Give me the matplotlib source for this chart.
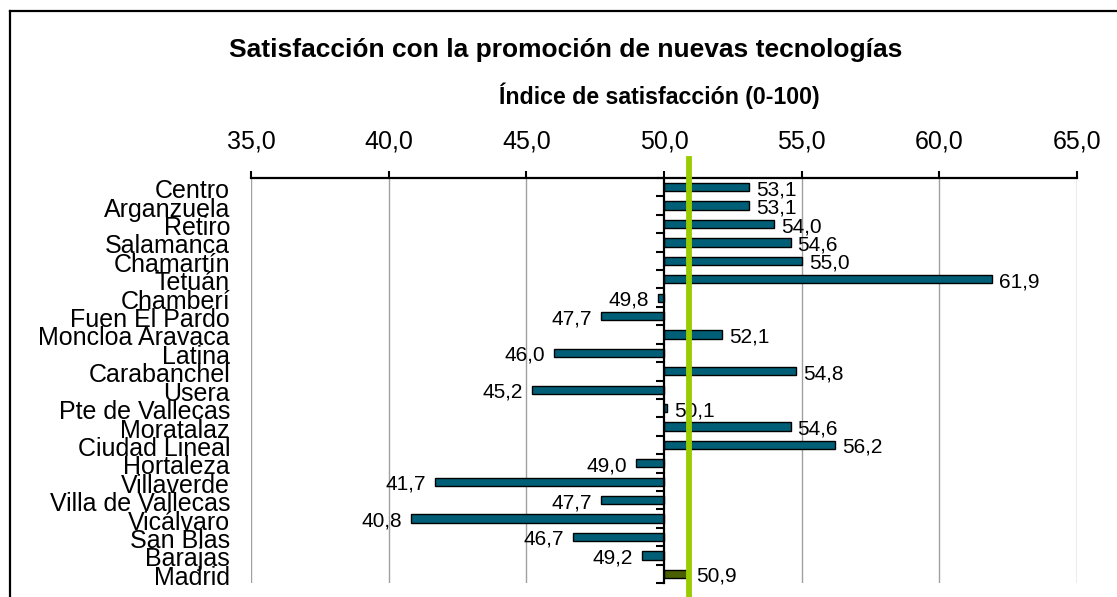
import matplotlib
matplotlib.use("Agg")
import matplotlib.pyplot as plt
import matplotlib.transforms as mtransforms
from matplotlib.lines import Line2D
import numpy as np

plt.rcParams['font.family'] = ['Liberation Sans', 'DejaVu Sans']

# ---------------- data ----------------
districts = ["Centro", "Arganzuela", "Retiro", "Salamanca", "Chamartín", "Tetuán",
             "Chamberí", "Fuen El Pardo", "Moncloa Aravaca", "Latina", "Carabanchel",
             "Usera", "Pte de Vallecas", "Moratalaz", "Ciudad Lineal", "Hortaleza",
             "Villaverde", "Villa de Vallecas", "Vicálvaro", "San Blas", "Barajas",
             "Madrid"]
values = [53.1, 53.1, 54.0, 54.6, 55.0, 61.9,
          49.8, 47.7, 52.1, 46.0, 54.8,
          45.2, 50.1, 54.6, 56.2, 49.0,
          41.7, 47.7, 40.8, 46.7, 49.2,
          50.9]
baseline = 50.0
madrid_avg = 50.9
x_ticks = [35, 40, 45, 50, 55, 60, 65]
x_tick_labels = ["35,0", "40,0", "45,0", "50,0", "55,0", "60,0", "65,0"]
title = "Satisfacción con la promoción de nuevas tecnologías"
subtitle = "Índice de satisfacción (0-100)"

# ---------------- figure ----------------
W, H = 1117, 597
fig = plt.figure(figsize=(W / 100, H / 100), dpi=100)
ax = fig.add_axes([251 / W, 1 - 583 / H, (1077 - 251) / W, (583 - 178) / H])

n = len(districts)
ypos = np.arange(n)
bar_colors = ['#005F77'] * (n - 1) + ['#4A6000']
widths = [v - baseline for v in values]
ax.barh(ypos, widths, left=baseline, height=0.45, color=bar_colors,
        edgecolor='black', linewidth=1.0, zorder=3)

ax.set_xlim(x_ticks[0], x_ticks[-1])
ax.set_ylim(n - 0.5, -0.5)

# x axis on top
ax.xaxis.tick_top()
ax.set_xticks(x_ticks)
ax.set_xticklabels(x_tick_labels, fontsize=18)
ax.tick_params(axis='x', which='major', direction='out', length=5, width=1.5,
               pad=13, colors='black')
for xv in x_ticks:
    if xv != baseline:
        ax.axvline(xv, color='#A0A0A0', linewidth=1.0, zorder=1)

# spines
for s in ['bottom', 'right']:
    ax.spines[s].set_visible(False)
ax.spines['top'].set_linewidth(1.6)
ax.spines['left'].set_position(('data', baseline))
ax.spines['left'].set_linewidth(1.6)
ax.spines['left'].set_zorder(4)

# y ticks: minor at category boundaries, no labels on the axis itself
ax.set_yticks([])
ax.set_yticks(np.arange(n + 1) - 0.5, minor=True)
ax.tick_params(axis='y', which='minor', direction='out', length=6, width=1.5,
               labelleft=False)

# category labels at a fixed position left of the plot
trans = mtransforms.blended_transform_factory(ax.transAxes, ax.transData)
trans_lbl = mtransforms.offset_copy(trans, fig=fig, x=0, y=-11, units='dots')
for i, name in enumerate(districts):
    ax.text(-21 / 826, i, name, transform=trans_lbl, ha='right', va='baseline',
            fontsize=18, color='black', clip_on=False)

# value labels
for i, v in enumerate(values):
    lbl = f"{v:.1f}".replace('.', ',')
    if v >= baseline:
        ax.annotate(lbl, xy=(v, i), xytext=(7, -8), textcoords='offset pixels',
                    ha='left', va='baseline', fontsize=15, zorder=5,
                    annotation_clip=False)
    else:
        ax.annotate(lbl, xy=(v, i), xytext=(-9, -8), textcoords='offset pixels',
                    ha='right', va='baseline', fontsize=15, zorder=5,
                    annotation_clip=False)

# Madrid average reference line
ax.axvline(madrid_avg, ymin=-0.05, ymax=1 + 19 / 405, color='#99CC00',
           linewidth=4.2, zorder=6, clip_on=False)

# titles
fig.text(566 / W, 1 - 57 / H, title, ha='center', va='baseline',
         fontsize=19, fontweight='bold')
fig.text(659 / W, 1 - 104 / H, subtitle, ha='center', va='baseline',
         fontsize=16.7, fontweight='bold')

# outer frame (top and left visible)
fig.add_artist(Line2D([10 / W, 1.0], [1 - 11 / H, 1 - 11 / H],
                      transform=fig.transFigure, color='black', linewidth=1.6))
fig.add_artist(Line2D([10 / W, 10 / W], [0.0, 1 - 11 / H],
                      transform=fig.transFigure, color='black', linewidth=1.6))

fig.savefig("out.png", dpi=100)
